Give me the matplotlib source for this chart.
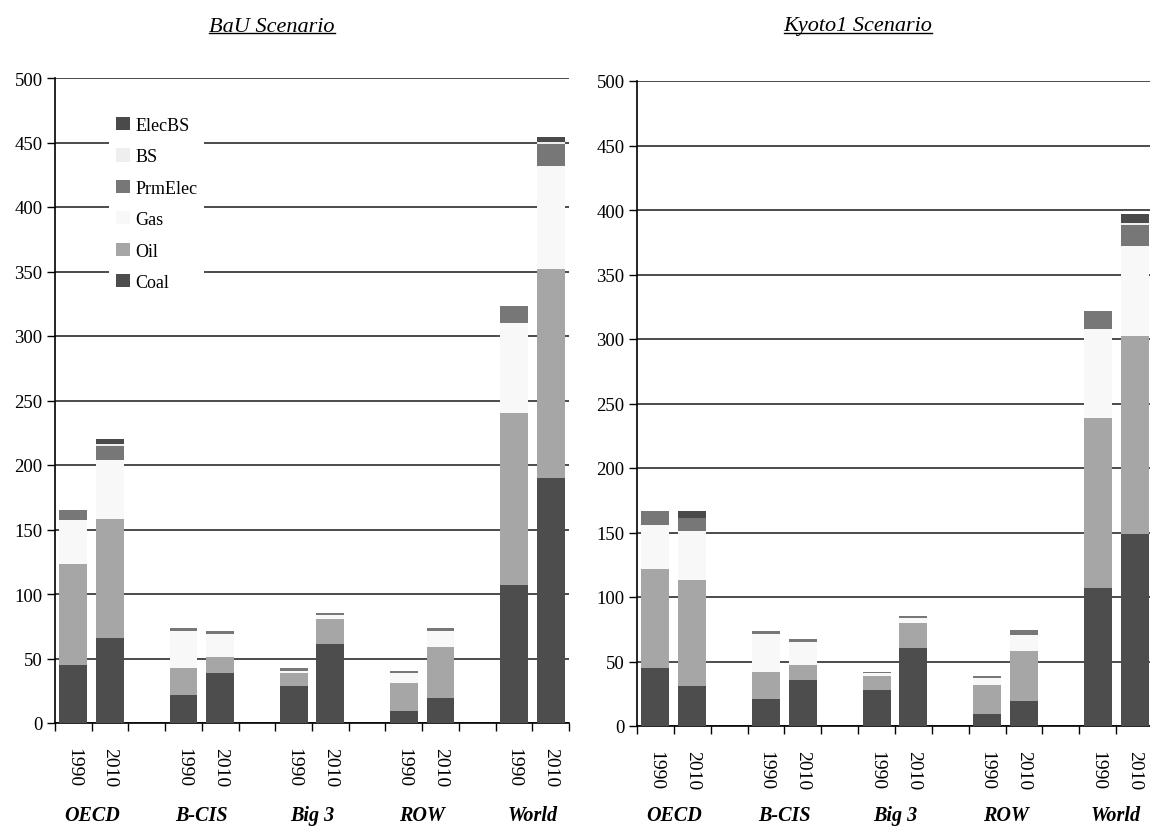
# plot.py
import numpy as np
import matplotlib
matplotlib.use("Agg")
import matplotlib.pyplot as plt
import matplotlib.transforms as mtransforms
from matplotlib.patches import Patch
from matplotlib.lines import Line2D

plt.rcParams['font.family'] = ['Liberation Serif', 'DejaVu Serif']

# データ
regions = ["OECD", "B-CIS", "Big 3", "ROW", "World"]
years = ["1990", "2010"]
fuels = ["Coal", "Oil", "Gas", "PrmElec", "BS", "ElecBS"]
colors = ["#4d4d4d", "#a6a6a6", "#f8f8f8", "#777777", "#eeeeee", "#4a4a4a"]

# BaU scenario, order of bars: OECD90, OECD10, BCIS90, BCIS10, Big3 90, Big3 10, ROW90, ROW10, World90, World10
bau_coal = [45, 66, 22, 39, 29, 61, 9, 19, 107, 190]
bau_oil = [78, 92, 21, 12, 10, 20, 22, 40, 133, 162]
bau_gas = [34, 46, 28, 18, 1, 3, 8, 12, 70, 80]
bau_prmelec = [8, 11, 3, 2.5, 2.5, 1.5, 1, 3, 13, 17]
bau_bs = [0, 1.5, 0, 0, 0, 0, 0, 0, 0, 1.5]
bau_elecbs = [0, 3.5, 0, 0, 0, 0, 0, 0, 0, 3.5]

# Kyoto1 scenario
kyo_coal = [45, 31, 21, 36, 28, 60.5, 9, 19.5, 107, 148.5]
kyo_oil = [77, 82, 21, 11.5, 11, 19.5, 23, 39, 131.5, 153.5]
kyo_gas = [34, 38, 29, 18, 2, 4, 5.5, 12, 69.5, 70]
kyo_prmelec = [11, 10, 2.5, 2, 1, 1.5, 1.5, 4, 14, 16.5]
kyo_bs = [0, 0, 0, 0, 0, 0, 0, 0, 0, 1.5]
kyo_elecbs = [0, 6, 0, 0, 0, 0, 0, 0, 0, 7]

scenarios = [
    ("BaU Scenario", [bau_coal, bau_oil, bau_gas, bau_prmelec, bau_bs, bau_elecbs]),
    ("Kyoto1 Scenario", [kyo_coal, kyo_oil, kyo_gas, kyo_prmelec, kyo_bs, kyo_elecbs]),
]

# x positions: two bars per region, one empty slot between regions
xpos = []
for i in range(len(regions)):
    xpos += [3 * i, 3 * i + 1]
xpos = np.array(xpos)

fig = plt.figure(figsize=(11.5, 8.29), dpi=100)
axes_rects = [[55 / 1150, 105 / 829, 514 / 1150, 645 / 829],
              [637 / 1150, 102 / 829, 516 / 1150, 645 / 829]]
title_x = [272 / 1150, 858 / 1150]

for k, (title, series) in enumerate(scenarios):
    ax = fig.add_axes(axes_rects[k])
    bottom = np.zeros(len(xpos))
    for vals, col, name in zip(series, colors, fuels):
        vals = np.array(vals, dtype=float)
        ax.bar(xpos, vals, width=0.76, bottom=bottom, color=col, label=name, zorder=3)
        bottom += vals

    ax.set_xlim(-0.5, 13.5)
    ax.set_ylim(0, 500)
    ax.set_yticks(np.arange(0, 501, 50))
    ax.yaxis.grid(True, color="#1a1a1a", linewidth=1.1, zorder=0)
    ax.set_axisbelow(True)
    for s in ["top", "right"]:
        ax.spines[s].set_visible(False)
    ax.spines["left"].set_linewidth(1.2)
    ax.spines["bottom"].set_linewidth(1.2)
    ax.tick_params(axis="y", length=6, width=1, labelsize=13.5, pad=3)

    # 年ラベル（縦書き）
    ax.set_xticks(xpos)
    ax.set_xticklabels(years * len(regions), rotation=270, fontsize=14)
    ax.tick_params(axis="x", which="major", length=0, pad=17)
    ax.set_xticks(np.arange(-0.5, 14, 1), minor=True)
    ax.tick_params(axis="x", which="minor", length=6, width=1)

    # 地域ラベル
    trans = mtransforms.blended_transform_factory(ax.transData, fig.transFigure)
    for i, r in enumerate(regions):
        ax.text(3 * i + 0.5, 1 - 816 / 829, r, transform=trans,
                ha="center", va="center", fontsize=14.5, fontweight="bold", fontstyle="italic")

    fig.text(title_x[k], 1 - 27 / 829, title, ha="center", va="center",
             fontsize=16, fontstyle="italic")

    if k == 0:
        handles = [Patch(facecolor=c, edgecolor="none") for c in colors][::-1]
        ax.legend(handles, fuels[::-1], loc="upper left", bbox_to_anchor=(0.105, 0.951),
                  fontsize=13, frameon=True, facecolor="white", edgecolor="none",
                  framealpha=1, fancybox=False, handlelength=0.75, handleheight=0.75,
                  handletextpad=0.3, labelspacing=0.8, borderaxespad=0, borderpad=0.4)

# タイトルの下線
fig.canvas.draw()
renderer = fig.canvas.get_renderer()
for t in fig.texts:
    bb = t.get_window_extent(renderer).transformed(fig.transFigure.inverted())
    yl = bb.y0 + 0.12 * (bb.y1 - bb.y0)
    fig.add_artist(Line2D([bb.x0, bb.x1], [yl, yl], transform=fig.transFigure,
                          color="black", linewidth=1))

plt.savefig("out.png", dpi=100)
